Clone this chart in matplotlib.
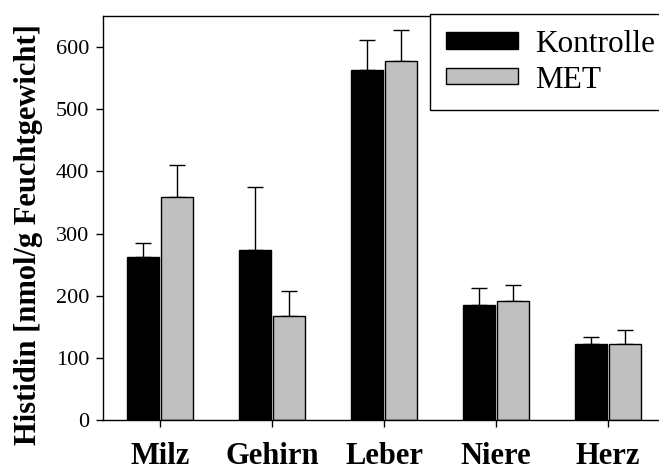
import matplotlib
matplotlib.use("Agg")
import matplotlib.pyplot as plt
import numpy as np

categories = ["Milz", "Gehirn", "Leber", "Niere", "Herz"]
kontrolle = [262, 274, 563, 185, 123]
kontrolle_err = [22, 101, 48, 27, 10]
met = [358, 167, 577, 191, 123]
met_err = [52, 41, 50, 27, 21]
yticks = [0, 100, 200, 300, 400, 500, 600]

plt.rcParams['font.family'] = ['Liberation Serif', 'DejaVu Serif']

fig = plt.figure(figsize=(6.59, 4.72), dpi=100)
ax = fig.add_axes([103/659, 1-420/472, 1-103/659, (420-16)/472])

x = np.arange(len(categories))
w = 0.28
off = 0.152
ax.bar(x - off, kontrolle, w, color="black", edgecolor="black", linewidth=1, label="Kontrolle", zorder=2)
ax.bar(x + off, met, w, color="#c0c0c0", edgecolor="black", linewidth=1, label="MET", zorder=2)
ax.errorbar(x - off, kontrolle, yerr=[np.zeros(len(x)), kontrolle_err], fmt="none",
            ecolor="black", elinewidth=1, capsize=6, capthick=1, zorder=1)
ax.errorbar(x + off, met, yerr=[np.zeros(len(x)), met_err], fmt="none",
            ecolor="black", elinewidth=1, capsize=6, capthick=1, zorder=1)

ax.set_xlim(-0.509, 4.455)
ax.set_ylim(0, 650)
ax.set_yticks(yticks)
ax.set_yticklabels([str(t) for t in yticks], fontsize=16)
ax.set_xticks(x)
ax.set_xticklabels(categories, fontsize=22, fontweight="bold")
ax.tick_params(axis="y", direction="out", length=5, width=1, pad=5)
ax.tick_params(axis="x", direction="out", length=5, width=1, pad=11)
ax.spines["right"].set_visible(False)
for s in ["left", "top", "bottom"]:
    ax.spines[s].set_linewidth(1)

ax.set_ylabel("Histidin [nmol/g Feuchtgewicht]", fontsize=22, fontweight="bold")
ax.yaxis.set_label_coords(-0.108, 0.46)

leg = fig.legend(loc="upper left", bbox_to_anchor=(430/659, 1-14/472), fontsize=22.5,
                 frameon=True, fancybox=False, edgecolor="black", framealpha=1,
                 handlelength=2.3, handleheight=0.42, borderpad=0.5, labelspacing=0.22,
                 handletextpad=0.55, borderaxespad=0)
leg.get_frame().set_linewidth(1)

fig.savefig("out.png", dpi=100)
